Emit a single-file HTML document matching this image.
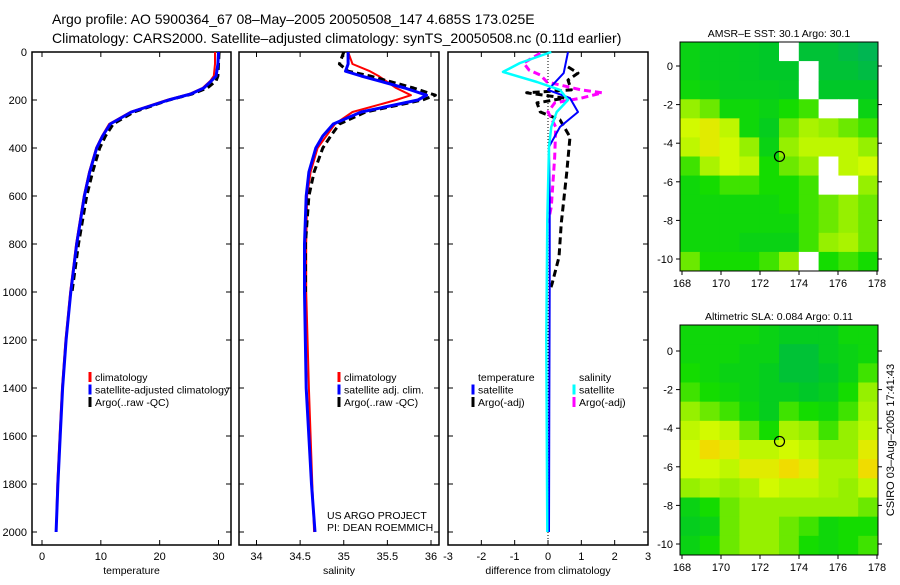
<!DOCTYPE html>
<html><head><meta charset="utf-8"><style>
body{margin:0;background:#fff}
svg text{font-family:"Liberation Sans",sans-serif;fill:#000}
</style></head><body>
<svg id="s" width="900" height="580" viewBox="0 0 900 580">
<text x="52" y="24" font-size="14">Argo profile: AO 5900364_67 08–May–2005 20050508_147 4.685S 173.025E</text>
<text x="52" y="43" font-size="14">Climatology: CARS2000. Satellite–adjusted climatology: synTS_20050508.nc (0.11d earlier)</text>
<g id="g"></g>
<text transform="translate(894,440) rotate(-90)" text-anchor="middle" font-size="11">CSIRO 03–Aug–2005 17:41:43</text>
</svg>
<script>
// ---- data ----
const depthTicks=[0,200,400,600,800,1000,1200,1400,1600,1800,2000];
const tempTicks=[0,10,20,30];
const salTicks=[34,34.5,35,35.5,36];
const diffTicks=[-3,-2,-1,0,1,2,3];
const tDepth=[0,50,100,120,150,175,200,250,300,350,400,500,600,800,1000,1200,1400,1600,1800,2000];
const tClim=[29.4,29.4,29.2,28.6,27.3,25,21.2,15,11.4,10.2,9.2,8,7.1,5.8,4.8,4,3.4,3,2.6,2.4];
const tSat=[30,29.9,29.6,28.8,27.5,25.3,21.5,15.2,11.6,10.3,9.3,8.1,7.2,5.9,4.9,4.1,3.5,3.1,2.7,2.4];
const tArgo=[30.1,30,29.9,29.6,28.1,25.5,21.6,15.6,12.1,10.8,9.8,8.6,7.6,6.2,5.1];
const sDepth=[0,50,80,100,150,180,200,250,300,350,400,500,600,800,1000,1400,1800,2000];
const sClim=[35.05,35.1,35.3,35.4,35.6,35.77,35.6,35.1,34.9,34.8,34.7,34.62,34.58,34.57,34.57,34.6,34.64,34.66];
const sSat=[35.05,35.05,35.02,35.2,35.7,35.95,35.85,35.2,34.88,34.76,34.68,34.6,34.57,34.55,34.55,34.57,34.63,34.67];
const sArgo=[35.0,34.95,35.05,35.3,35.8,36.05,35.9,35.25,34.95,34.85,34.76,34.66,34.6,34.56,34.56];
const dTsatDepth=[0,88,158,192,250,312,395,600,1000,1500,2000];
const dTsat=[0.6,0.47,0,0.66,0.9,0.36,0.03,0.05,0.05,0.04,0.03];
const dSsatDepth=[0,46,83,125,158,200,250,312,395,700,1200,2000];
const dSsat=[0.1,-0.84,-1.35,-0.33,0.36,0.6,0.26,0.1,0.03,-0.02,-0.05,-0.02];
const dTargoDepth=[62,88,117,158,170,192,212,250,283,354,504,712,854,962,990];
const dTargo=[0.6,0.9,0.6,0.7,-0.64,0.5,-0.33,-0.23,0.36,0.66,0.56,0.4,0.33,0.13,0.07];
const dSargoDepth=[5,46,75,96,125,158,170,192,212,250,312,437,645,712];
const dSargo=[-0.23,-0.73,-0.57,-0.23,-0.03,1.0,1.63,1.0,0.2,0,0.23,0.2,0.1,0];
const lonTicks=[168,170,172,174,176,178];
const latTicks=[0,-2,-4,-6,-8,-10];
const sstGrid=[
[.35,.3,.3,.28,.25,null,.2,.2,.15,.1],
[.35,.3,.3,.28,.25,.25,null,.2,.2,.15],
[.4,.35,.3,.3,.3,.28,null,.25,.25,.25],
[.6,.55,.4,.4,.35,.45,.5,null,null,.35],
[.75,.8,.7,.4,.3,.55,.65,.6,.55,.5],
[.7,.8,.75,.6,.35,.6,.7,.7,.7,.6],
[.5,.65,.75,.7,.45,.55,.6,null,.7,.75],
[.4,.45,.5,.5,.45,.45,.5,null,null,.6],
[.4,.4,.4,.4,.4,.45,.5,.55,.6,.55],
[.4,.4,.4,.4,.4,.4,.5,.55,.6,.55],
[.4,.4,.4,.35,.35,.35,.5,.6,.65,.55],
[.55,.45,.45,.45,.5,.6,null,.45,.5,.45]];
const slaGrid=[
[.4,.4,.4,.4,.35,.3,.3,.3,.4,.4],
[.4,.4,.4,.35,.35,.2,.2,.3,.35,.4],
[.45,.4,.35,.35,.3,.2,.2,.25,.35,.5],
[.5,.45,.4,.35,.3,.3,.25,.3,.45,.6],
[.6,.55,.5,.4,.3,.5,.45,.4,.5,.65],
[.7,.75,.7,.55,.45,.65,.6,.5,.6,.7],
[.75,.85,.8,.7,.7,.75,.7,.6,.6,.8],
[.75,.75,.7,.8,.8,.85,.8,.65,.65,.85],
[.6,.65,.6,.65,.75,.7,.7,.65,.6,.7],
[.35,.45,.55,.6,.6,.6,.6,.6,.6,.55],
[.3,.35,.55,.6,.6,.55,.5,.4,.45,.45],
[.35,.45,.55,.6,.6,.55,.45,.4,.45,.5]];
const argoLon=173.0, argoLat=-4.685;

// ---- drawing ----
const NS='http://www.w3.org/2000/svg', G=document.getElementById('g');
function el(t,a,p){const e=document.createElementNS(NS,t);for(const k in a)e.setAttribute(k,a[k]);(p||G).appendChild(e);return e;}
const Y=d=>52+d*0.24;
function panel(name,x0,x1,vmin,vmax,px0,px1,ticks,label,leftLabels){
  const X=v=>px0+(v-vmin)*(px1-px0)/(vmax-vmin);
  const b=el('rect',{x:x0,y:52,width:x1-x0,height:493,fill:'none',stroke:'#000','stroke-width':1.5});
  
  ticks.forEach(t=>{const x=X(t);
    el('line',{x1:x,x2:x,y1:545,y2:540,stroke:'#000'});el('line',{x1:x,x2:x,y1:52,y2:57,stroke:'#000'});
    const tx=el('text',{x:x,y:560,'font-size':11,'text-anchor':'middle'});tx.textContent=t;
    });
  depthTicks.forEach(d=>{const y=Y(d);
    el('line',{x1:x0,x2:x0+5,y1:y,y2:y,stroke:'#000'});el('line',{x1:x1,x2:x1-5,y1:y,y2:y,stroke:'#000'});
    if(leftLabels){const tx=el('text',{x:27,y:y+4,'font-size':11,'text-anchor':'end'});tx.textContent=d;
      }});
  const at=el('text',{x:(x0+x1)/2,y:574,'font-size':10.5,'text-anchor':'middle'});at.textContent=label;
  
  return X;
}
function line(X,ds,vs,col,w,dash,name){
  const pts=ds.map((d,i)=>X(vs[i]).toFixed(1)+','+Y(d).toFixed(1)).join(' ');
  const a={points:pts,fill:'none',stroke:col,'stroke-width':w,'stroke-linejoin':'round'};if(dash)a['stroke-dasharray']=dash;
  const p=el('polyline',a);
}
function legend(mx,ty,rows){rows.forEach((r,i)=>{const y=ty+i*12.5;
  if(r.c){const m=el('line',{x1:mx,x2:mx,y1:y-9,y2:y+1,stroke:r.c,'stroke-width':3});}
  const t=el('text',{x:mx+5,y:y,'font-size':10.5});t.textContent=r.t;});}

const X1=panel('temperature-panel',32,231,0,30,42,218.5,tempTicks,'temperature',true);
line(X1,tDepth,tClim,'#f00',2,null,'temp-climatology-line');
line(X1,tArgo.map((_,i)=>tDepth[i]),tArgo,'#000',3,'7,4','temp-argo-line');
line(X1,tDepth,tSat,'#00f',3,null,'temp-satellite-line');
legend(90,381,[{c:'#f00',t:'climatology'},{c:'#00f',t:'satellite-adjusted climatology'},{c:'#000',t:'Argo(..raw -QC)'}]);

const X2=panel('salinity-panel',239,439,34,36,256.5,431,salTicks,'salinity',false);
line(X2,sDepth,sClim,'#f00',2,null,'sal-climatology-line');
line(X2,sArgo.map((_,i)=>sDepth[i]),sArgo,'#000',3,'7,4','sal-argo-line');
line(X2,sDepth,sSat,'#00f',3,null,'sal-satellite-line');
legend(339,381,[{c:'#f00',t:'climatology'},{c:'#00f',t:'satellite adj. clim.'},{c:'#000',t:'Argo(..raw -QC)'}]);
[['US ARGO PROJECT',519],['PI: DEAN ROEMMICH',531]].forEach(r=>{const t=el('text',{x:327,y:r[1],'font-size':10.5});t.textContent=r[0];});

const X3=panel('difference-panel',448,648,-3,3,448,648,diffTicks,'difference from climatology',false);
el('line',{x1:X3(0),x2:X3(0),y1:52,y2:545,stroke:'#000','stroke-dasharray':'1,2'});
line(X3,dTargoDepth,dTargo,'#000',3,'7,4','diff-temp-argo-line');
line(X3,dSargoDepth,dSargo,'#f0f',3,'7,4','diff-sal-argo-line');
line(X3,dTsatDepth,dTsat,'#00f',2,null,'diff-temp-satellite-line');
line(X3,dSsatDepth,dSsat,'#0ff',2.5,null,'diff-sal-satellite-line');
legend(473,381,[{t:'temperature'},{c:'#00f',t:'satellite'},{c:'#000',t:'Argo(-adj)'}]);
legend(574,381,[{t:'salinity'},{c:'#0ff',t:'satellite'},{c:'#f0f',t:'Argo(-adj)'}]);

function cmap(v){const s=[[0,[0,170,110]],[.25,[0,200,40]],[.45,[20,220,0]],[.6,[150,240,0]],[.75,[210,250,0]],[.9,[255,205,0]],[1,[255,170,0]]];
  for(let i=1;i<s.length;i++)if(v<=s[i][0]){const f=(v-s[i-1][0])/(s[i][0]-s[i-1][0]);const a=s[i-1][1],b=s[i][1];
    return 'rgb('+a.map((c,k)=>Math.round(c+(b[k]-c)*f)).join(',')+')';}return 'rgb(255,170,0)';}
function map(name,title,grid,top,lat0y,bot){
  const LX=l=>682+(l-168)*19.5, LY=l=>lat0y-l*19.3;
  const rows=grid.length, rh=(bot-top)/rows, cols=10, cw=(878-680)/cols;
  grid.forEach((r,i)=>r.forEach((v,j)=>{const c=el('rect',{x:680+j*cw,y:top+i*rh,width:cw+0.5,height:rh+0.5,fill:v==null?'#fff':cmap(v)});
    }));
  const f=el('rect',{x:680,y:top,width:198,height:bot-top,fill:'none',stroke:'#000'});
  lonTicks.forEach(l=>{const x=LX(l);el('line',{x1:x,x2:x,y1:bot,y2:bot+4,stroke:'#000'});
    const t=el('text',{x:x,y:bot+16,'font-size':11,'text-anchor':'middle'});t.textContent=l;});
  latTicks.forEach(l=>{const y=LY(l);el('line',{x1:676,x2:680,y1:y,y2:y,stroke:'#000'});el('line',{x1:878,x2:882,y1:y,y2:y,stroke:'#000'});
    const t=el('text',{x:673,y:y+4,'font-size':11,'text-anchor':'end'});t.textContent=l;});
  const c=el('circle',{cx:LX(argoLon),cy:LY(argoLat),r:5,fill:'none',stroke:'#000','stroke-width':1.2});
  const t=el('text',{x:779,y:top-5,'font-size':10.5,'text-anchor':'middle'});t.textContent=title;
}
map('sst-map','AMSR–E SST: 30.1 Argo: 30.1',sstGrid,42,66,271);
map('sla-map','Altimetric SLA: 0.084 Argo: 0.11',slaGrid,325,351,555);
</script>
</body></html>
